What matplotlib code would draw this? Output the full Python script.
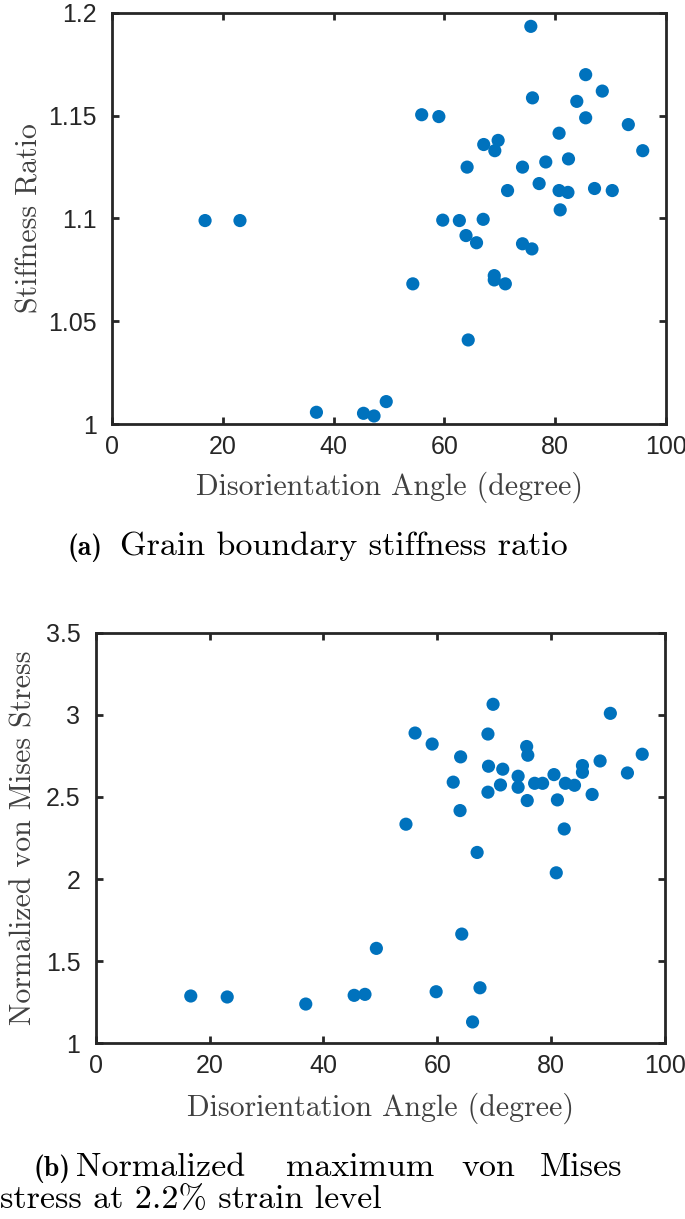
import matplotlib
matplotlib.use("Agg")
import matplotlib.pyplot as plt

# Panel (a): Grain boundary stiffness ratio
angle_a = [16.8, 23.1, 36.9, 45.4, 47.3, 49.5,
           75.6, 85.5, 88.5, 75.9, 83.9, 55.9, 59.0, 85.5, 93.2, 80.7,
           67.1, 69.7, 69.1, 95.8, 82.4, 78.3, 64.1, 74.1, 77.1, 71.4,
           80.7, 82.3, 87.1, 90.3, 80.9, 59.7, 62.7, 67.0, 63.9, 65.8,
           74.1, 75.8, 54.3, 69.0, 69.0, 71.0, 64.3]
stiffness = [1.099, 1.099, 1.0057, 1.0052, 1.0039, 1.0109,
             1.1935, 1.170, 1.162, 1.1587, 1.157, 1.1505, 1.1496, 1.149, 1.1457, 1.1415,
             1.136, 1.138, 1.133, 1.133, 1.129, 1.1275, 1.125, 1.125, 1.117, 1.1136,
             1.1136, 1.1127, 1.1146, 1.1136, 1.1042, 1.0992, 1.099, 1.0996, 1.0917, 1.0882,
             1.0877, 1.0852, 1.0682, 1.0722, 1.0701, 1.0682, 1.0409]

# Panel (b): Normalized maximum von Mises stress
angle_b = [16.7, 23.1, 36.9, 45.4, 47.3, 49.3,
           69.8, 90.4, 56.1, 68.9, 59.1, 75.7, 75.9, 64.1, 96.0, 88.6,
           69.0, 71.5, 85.5, 85.5, 93.4, 80.5, 74.2, 62.8, 71.1, 74.2,
           77.1, 78.5, 82.5, 84.1, 68.9, 75.8, 81.1, 87.2, 64.0, 82.3,
           54.5, 67.0, 80.9, 64.3, 59.8, 67.5, 66.2]
vonmises = [1.288, 1.282, 1.239, 1.292, 1.298, 1.578,
            3.064, 3.009, 2.889, 2.883, 2.822, 2.807, 2.754, 2.744, 2.760, 2.719,
            2.687, 2.669, 2.691, 2.650, 2.646, 2.636, 2.626, 2.590, 2.573, 2.559,
            2.583, 2.583, 2.583, 2.571, 2.529, 2.478, 2.482, 2.515, 2.417, 2.305,
            2.334, 2.162, 2.038, 1.665, 1.314, 1.338, 1.130]

xticks = [0, 20, 40, 60, 80, 100]
yticks_a = [1, 1.05, 1.1, 1.15, 1.2]
ytick_labels_a = ["1", "1.05", "1.1", "1.15", "1.2"]
yticks_b = [1, 1.5, 2, 2.5, 3, 3.5]
ytick_labels_b = ["1", "1.5", "2", "2.5", "3", "3.5"]

W, H = 685, 1219
fig = plt.figure(figsize=(W / 100, H / 100), dpi=100)

mcolor = "#0072BD"
axcol = "#262626"
labcol = "#404040"
serif = "cmr10"
tick_fs = 18
lab_fs = 21.5
cap_fs = 24.5
capb_fs = 20


def style(ax):
    for s in ax.spines.values():
        s.set_linewidth(2.0)
        s.set_color(axcol)
    ax.tick_params(direction="in", length=5, width=2.0, color=axcol,
                   top=True, right=True, labelsize=tick_fs, labelcolor=axcol)
    ax.tick_params(axis="y", pad=11)
    ax.tick_params(axis="x", pad=8)
    for lab in ax.get_xticklabels() + ax.get_yticklabels():
        lab.set_fontfamily("Liberation Sans")


ax1 = fig.add_axes([112 / W, 1 - 424 / H, (666 - 112) / W, (424 - 13) / H])
ax1.scatter(angle_a, stiffness, s=90, color=mcolor, edgecolors="none", zorder=3)
ax1.set_xlim(0, 100)
ax1.set_ylim(1, 1.2)
ax1.set_xticks(xticks)
ax1.set_xticklabels([str(t) for t in xticks])
ax1.set_yticks(yticks_a)
ax1.set_yticklabels(ytick_labels_a)
style(ax1)
ax1.set_xlabel("Disorientation Angle (degree)", fontfamily=serif, fontsize=lab_fs,
               color=labcol, labelpad=9)
ax1.set_ylabel("Stiffness Ratio", fontfamily=serif, fontsize=lab_fs, color=labcol,
               labelpad=3)

ax2 = fig.add_axes([95.7 / W, 1 - 1043.3 / H, (665 - 95.7) / W, (1043.3 - 632.7) / H])
ax2.scatter(angle_b, vonmises, s=90, color=mcolor, edgecolors="none", zorder=3)
ax2.set_xlim(0, 100)
ax2.set_ylim(1, 3.5)
ax2.set_xticks(xticks)
ax2.set_xticklabels([str(t) for t in xticks])
ax2.set_yticks(yticks_b)
ax2.set_yticklabels(ytick_labels_b)
style(ax2)
ax2.set_xlabel("Disorientation Angle (degree)", fontfamily=serif, fontsize=lab_fs,
               color=labcol, labelpad=10)
ax2.set_ylabel("Normalized von Mises Stress", fontfamily=serif, fontsize=lab_fs,
               color=labcol, labelpad=6)

# Captions
fig.text(68 / W, 1 - 555 / H, "(a)", fontfamily="cmb10", fontsize=capb_fs,
         color="black", ha="left", va="baseline")
fig.text(120 / W, 1 - 555 / H, "Grain boundary stiffness ratio", fontfamily=serif,
         fontsize=cap_fs, color="black", ha="left", va="baseline")

line1 = [("(b)", 33, "cmb10", capb_fs), ("Normalized", 76, serif, cap_fs),
         ("maximum", 286, serif, cap_fs), ("von", 461, serif, cap_fs),
         ("Mises", 540, serif, cap_fs)]
for word, x, fam, fs in line1:
    fig.text(x / W, 1 - 1176 / H, word, fontfamily=fam, fontsize=fs,
             color="black", ha="left", va="baseline")
fig.text(0 / W, 1 - 1208 / H, "stress at 2.2% strain level", fontfamily=serif,
         fontsize=cap_fs, color="black", ha="left", va="baseline")

fig.savefig("out.png", dpi=100)
